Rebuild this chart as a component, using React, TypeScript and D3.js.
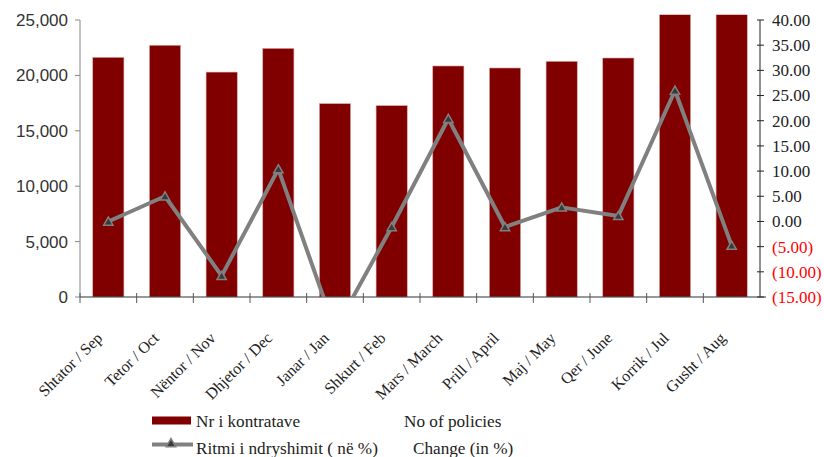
import React from "react";
import * as d3 from "d3";

const categories = [
  "Shtator / Sep", "Tetor / Oct", "Nëntor / Nov", "Dhjetor / Dec", "Janar / Jan", "Shkurt / Feb",
  "Mars / March", "Prill / April", "Maj / May", "Qer  / June", "Korrik / Jul", "Gusht / Aug",
];
const contracts = [21630, 22720, 20300, 22440, 17450, 17270, 20850, 20670, 21270, 21570, 27200, 25900];
const changePct = [0, 5.0, -10.8, 10.4, -21.5, -1.1, 20.4, -1.1, 2.8, 1.1, 26.0, -4.8];
const leftTicks = [0, 5000, 10000, 15000, 20000, 25000];
const rightTicks = [-15, -10, -5, 0, 5, 10, 15, 20, 25, 30, 35, 40];

const W = 824, H = 457;
const L = 80, R = 760, T = 20, B = 297, CLIP_TOP = 14.7;

export default function App() {
  const x = d3.scaleBand<string>().domain(categories).range([L, R]).padding(0);
  const step = x.step();
  const barW = step * 0.55;
  const yL = d3.scaleLinear().domain([0, 25000]).range([B, T]);
  const yR = d3.scaleLinear().domain([-15, 40]).range([B, T]);
  const cx = (c: string) => (x(c) as number) + x.bandwidth() / 2;
  const fmtL = d3.format(",");
  const fmtR = (v: number) => (v < 0 ? `(${Math.abs(v).toFixed(2)})` : v.toFixed(2));
  const line = d3.line<number>().x((_, i) => cx(categories[i])).y((d) => yR(d));
  const tri = d3.symbol().type(d3.symbolTriangle).size(38)();
  const serif = "'Liberation Serif', 'Times New Roman', serif";
  const sans = "'Liberation Sans', Arial, sans-serif";

  return (
    <svg width={W} height={H} style={{ position: "absolute", left: 0, top: 0 }}>
      <defs>
        <clipPath id="plot">
          <rect x={L - 10} y={CLIP_TOP} width={R - L + 20} height={B - CLIP_TOP} />
        </clipPath>
      </defs>
      <rect width={W} height={H} fill="#fff" />
      <g clipPath="url(#plot)">
        {categories.map((c, i) => (
          <rect key={c} x={cx(c) - barW / 2} y={yL(contracts[i])} width={barW} height={B - yL(contracts[i])}
            fill="#800000" stroke="#d8a8a8" strokeWidth={0.6} />
        ))}
      </g>
      {/* left axis */}
      <line x1={L} x2={L} y1={T} y2={B} stroke="#888" strokeWidth={1} />
      {leftTicks.map((t) => (
        <g key={t}>
          <line x1={L - 5} x2={L} y1={yL(t)} y2={yL(t)} stroke="#888" />
          <text x={L - 12} y={yL(t)} dy="0.35em" textAnchor="end" fontFamily={sans} fontSize={17} fill="#333">
            {fmtL(t)}
          </text>
        </g>
      ))}
      {/* right axis */}
      <line x1={R} x2={R} y1={T} y2={B} stroke="#222" strokeWidth={1} />
      {rightTicks.map((t) => (
        <g key={t}>
          <line x1={R - 3} x2={R + 4} y1={yR(t)} y2={yR(t)} stroke="#222" />
          <text x={R + 12} y={yR(t)} dy="0.35em" textAnchor="start" fontFamily={serif} fontSize={17}
            fill={t < 0 ? "#ff0000" : "#222"}>
            {fmtR(t)}
          </text>
        </g>
      ))}
      {/* x axis */}
      <line x1={L} x2={R + 6} y1={B} y2={B} stroke="#333" strokeWidth={1} />
      {categories.map((c) => (
        <line key={"t" + c} x1={(x(c) as number)} x2={(x(c) as number)} y1={B - 4} y2={B + 6} stroke="#555" />
      ))}
      {categories.map((c) => (
        <text key={"l" + c} transform={`translate(${cx(c) - 5},${B + 42}) rotate(-45)`} textAnchor="end"
          fontFamily={serif} fontSize={16} fill="#222">
          {c}
        </text>
      ))}
      {/* line */}
      <g clipPath="url(#plot)">
        <path d={line(changePct) || ""} fill="none" stroke="#808080" strokeWidth={4} strokeLinejoin="round" />
        {changePct.map((v, i) => (
          <path key={i} d={tri || ""} transform={`translate(${cx(categories[i])},${yR(v) + 1})`}
            fill="#3a3a3a" stroke="#808080" strokeWidth={1.5} />
        ))}
      </g>
      {/* legend */}
      <rect x={152} y={416.5} width={39} height={8} fill="#800000" />
      <text x={196} y={427} fontFamily={serif} fontSize={17.2} fill="#222">Nr i kontratave</text>
      <text x={404} y={427} fontFamily={serif} fontSize={17.2} fill="#222">No of policies</text>
      <line x1={152} x2={193} y1={444.5} y2={444.5} stroke="#808080" strokeWidth={4} />
      <path d={tri || ""} transform="translate(171,444)" fill="#3a3a3a" stroke="#808080" strokeWidth={1.5} />
      <text x={196} y={454} fontFamily={serif} fontSize={17.2} fill="#222">Ritmi i ndryshimit ( në %)</text>
      <text x={413} y={454} fontFamily={serif} fontSize={17.2} fill="#222">Change (in %)</text>
    </svg>
  );
}
